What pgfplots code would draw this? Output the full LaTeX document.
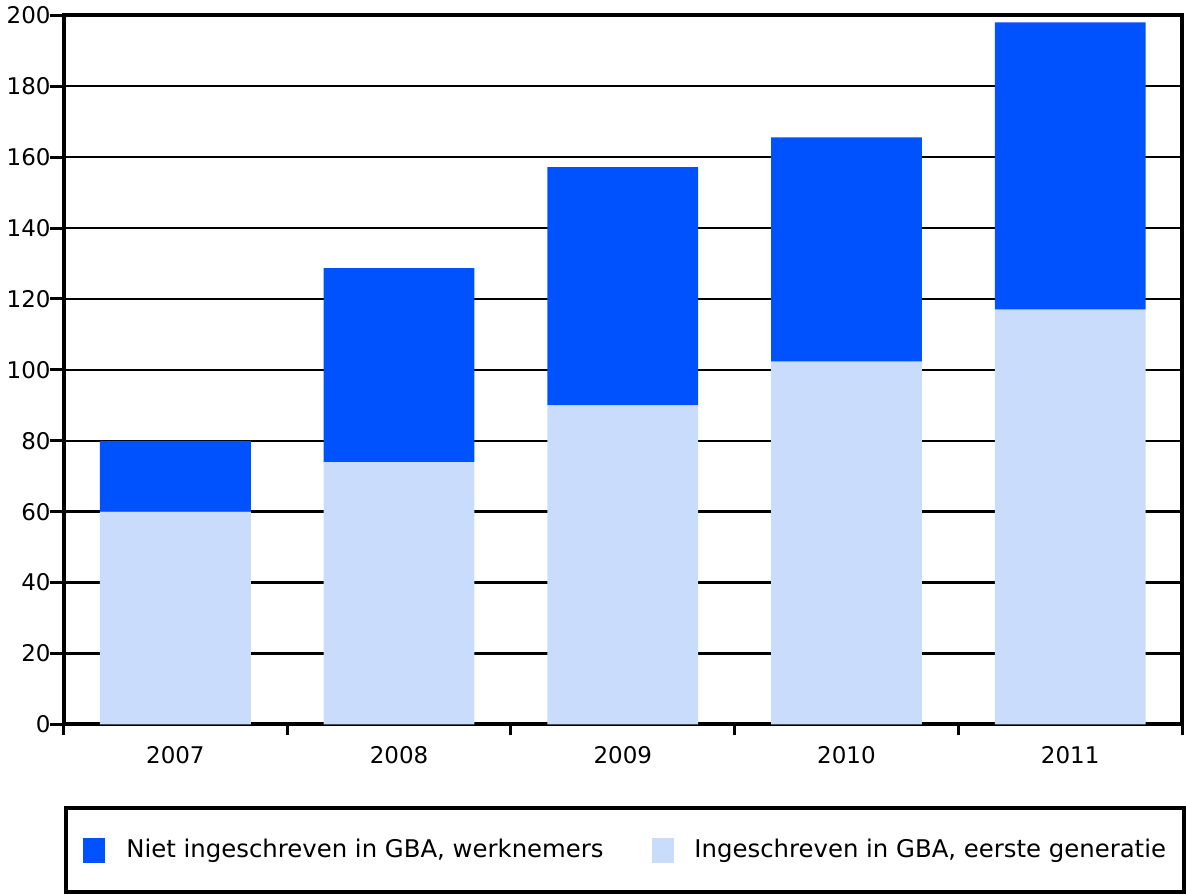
\documentclass[border=0pt]{standalone}
\usepackage{fontspec}
\setmainfont{DejaVu Sans}
\usepackage{pgfplots}
\pgfplotsset{compat=1.18}
\definecolor{nietC}{HTML}{0052FF}
\definecolor{ingC}{HTML}{CADCFB}

\begin{document}
\begin{tikzpicture}
  \begin{axis}[
    scale only axis, width=560pt, height=355pt,
    ybar stacked, bar width=75.5pt,
    xmin=-0.5, xmax=4.5, ymin=0, ymax=200,
    xtick={-0.5,0.5,...,4.5}, x tick label as interval,
    xticklabels={2007,2008,2009,2010,2011},
    ytick={0,20,...,200},
    tick pos=left, tick align=outside,
    major tick length=7pt,
    xtick style={/pgfplots/major tick length=5.5pt},
    tick style={black, line width=1.5pt},
    axis line style={black, line width=2pt},
    ymajorgrids, grid style={black, line width=1.2pt},
    tick label style={font=\fontsize{11.5}{13}\selectfont,
      /pgf/number format/assume math mode=true},
    yticklabel style={xshift=4pt},
    xticklabel style={yshift=-0.5pt},
    legend image code/.code={\fill[#1] (0pt,-6.25pt) rectangle (11pt,6.25pt);},
    reverse legend,
    legend style={at={(axis description cs:0,0)}, anchor=north west,
      yshift=-41pt, draw=black, line width=2pt,
      minimum width=560pt, minimum height=42pt,
      legend columns=2, font=\fontsize{12.2}{14}\selectfont,
      nodes={inner sep=0pt, minimum width=0pt, minimum height=0pt},
      /tikz/every odd column/.append style={column sep=10.5pt},
      /tikz/every even column/.append style={column sep=24pt}},
  ]
    \addplot[fill=ingC, draw=none] coordinates
      {(0,60) (1,74) (2,90) (3,102.3) (4,117)};
    \addlegendentry{Ingeschreven in GBA, eerste generatie}
    \addplot[fill=nietC, draw=none] coordinates
      {(0,20) (1,54.7) (2,67.2) (3,63.3) (4,81)};
    \addlegendentry{Niet ingeschreven in GBA, werknemers}
  \end{axis}
\end{tikzpicture}
\end{document}
